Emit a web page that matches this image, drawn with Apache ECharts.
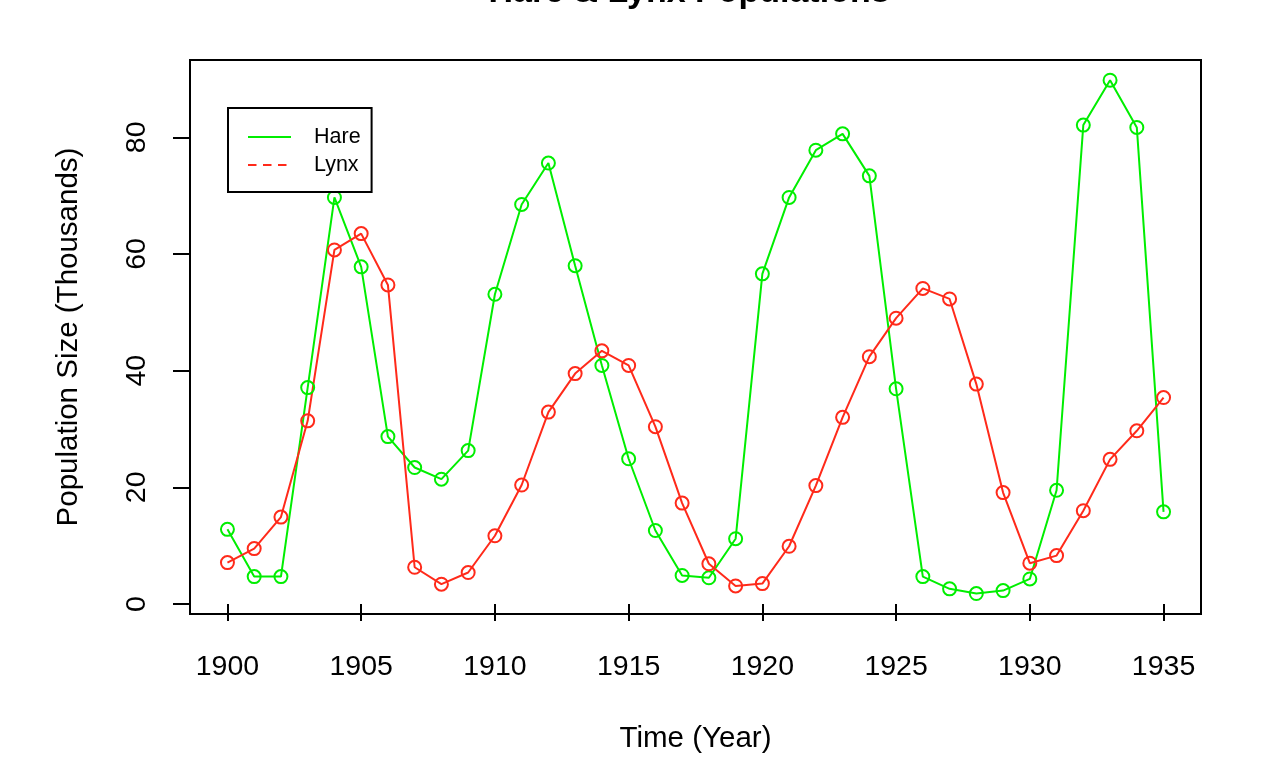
<!DOCTYPE html>
<html>
<head>
<meta charset="utf-8">
<script src="https://cdn.jsdelivr.net/npm/echarts@6/dist/echarts.min.js"></script>
<style>
html,body{margin:0;padding:0;background:#fff;}
#chart{width:1277px;height:782px;}
</style>
</head>
<body>
<div id="chart"></div>
<script>
// ---- data ----
var years = [1900,1901,1902,1903,1904,1905,1906,1907,1908,1909,1910,1911,1912,1913,1914,1915,1916,1917,1918,1919,1920,1921,1922,1923,1924,1925,1926,1927,1928,1929,1930,1931,1932,1933,1934,1935];
var hare = [12.8,4.7,4.7,37.1,69.7,57.8,28.7,23.4,21.4,26.3,53.1,68.5,75.6,58.0,40.9,24.9,12.6,4.9,4.5,11.2,56.6,69.7,77.8,80.6,73.4,36.9,4.7,2.6,1.8,2.3,4.3,19.5,82.1,89.8,81.7,15.8];
var lynx = [7.1,9.5,14.9,31.4,60.7,63.5,54.7,6.3,3.4,5.4,11.7,20.4,32.9,39.5,43.4,40.9,30.4,17.3,6.9,3.1,3.5,9.9,20.3,32.0,42.4,49.0,54.1,52.3,37.7,19.1,7.0,8.3,16.0,24.8,29.7,35.4];
var xTicks = [1900,1905,1910,1915,1920,1925,1930,1935];
var yTicks = [0,20,40,60,80];

var GREEN = '#00ee00';
var RED = '#ff2a1a';
var FONT = 'Liberation Sans';

function pairs(xs, ys){ return xs.map(function(x,i){ return [x, ys[i]]; }); }

var chart = echarts.init(document.getElementById('chart'), null, {renderer:'canvas'});
chart.setOption({
  animation: false,
  backgroundColor: '#fff',
  title: {
    text: 'Hare & Lynx Populations',
    left: 689,
    textAlign: 'center',
    top: -24,
    padding: 0,
    textStyle: {fontFamily: FONT, fontSize: 34, fontWeight: 'bold', color: '#000'}
  },
  legend: {
    orient: 'vertical',
    left: 228,
    top: 108,
    padding: [18, 11, 16, 20],
    itemGap: 6,
    itemWidth: 43,
    itemHeight: 2,
    symbolKeepAspect: false,
    borderColor: '#000',
    borderWidth: 2,
    borderRadius: 0,
    backgroundColor: '#fff',
    selectedMode: false,
    itemStyle: {borderWidth: 0},
    textStyle: {fontFamily: FONT, fontSize: 21.5, color: '#000', padding: [2,0,0,18]},
    data: [
      {name: 'Hare', icon: 'path://M0,0h43v2h-43z', itemStyle: {color: GREEN, borderWidth: 0}},
      {name: 'Lynx', icon: 'path://M0,0h8.5v2h-8.5z M15,0h8.5v2h-8.5z M30,0h8.5v2h-8.5z M43,0L43,2', itemStyle: {color: RED, borderWidth: 0}}
    ]
  },
  grid: {
    left: 190, right: 76, top: 60, bottom: 168,
    show: true, borderColor: '#000', borderWidth: 2, backgroundColor: 'transparent'
  },
  xAxis: {
    type: 'value',
    min: 1898.6, max: 1936.4,
    name: 'Time (Year)',
    nameLocation: 'middle',
    nameGap: 110,
    nameTextStyle: {fontFamily: FONT, fontSize: 29.5, color: '#000'},
    axisLine: {show: false},
    splitLine: {show: false},
    axisTick: {show: true, length: 17, customValues: xTicks, lineStyle: {color: '#000', width: 2}},
    axisLabel: {customValues: xTicks, margin: 39, fontFamily: FONT, fontSize: 28.5, color: '#000',
      formatter: function(v){ return String(v); }}
  },
  yAxis: {
    type: 'value',
    min: -1.71, max: 93.26,
    name: 'Population Size (Thousands)',
    nameLocation: 'middle',
    nameGap: 106,
    nameTextStyle: {fontFamily: FONT, fontSize: 29.5, color: '#000'},
    axisLine: {show: false},
    splitLine: {show: false},
    axisTick: {show: true, length: 17, customValues: yTicks, lineStyle: {color: '#000', width: 2}},
    axisLabel: {customValues: yTicks, rotate: 90, margin: 38, fontFamily: FONT, fontSize: 28.5, color: '#000',
      formatter: function(v){ return String(v); }}
  },
  series: [
    {
      name: 'Hare', type: 'line', data: pairs(years, hare),
      symbol: 'circle', symbolSize: 13, clip: false,
      lineStyle: {color: GREEN, width: 2},
      itemStyle: {color: 'transparent', borderColor: GREEN, borderWidth: 2},
      emphasis: {disabled: true}
    },
    {
      name: 'Lynx', type: 'line', data: pairs(years, lynx),
      symbol: 'circle', symbolSize: 13, clip: false,
      lineStyle: {color: RED, width: 2},
      itemStyle: {color: 'transparent', borderColor: RED, borderWidth: 2},
      emphasis: {disabled: true}
    }
  ]
});
</script>
</body>
</html>
